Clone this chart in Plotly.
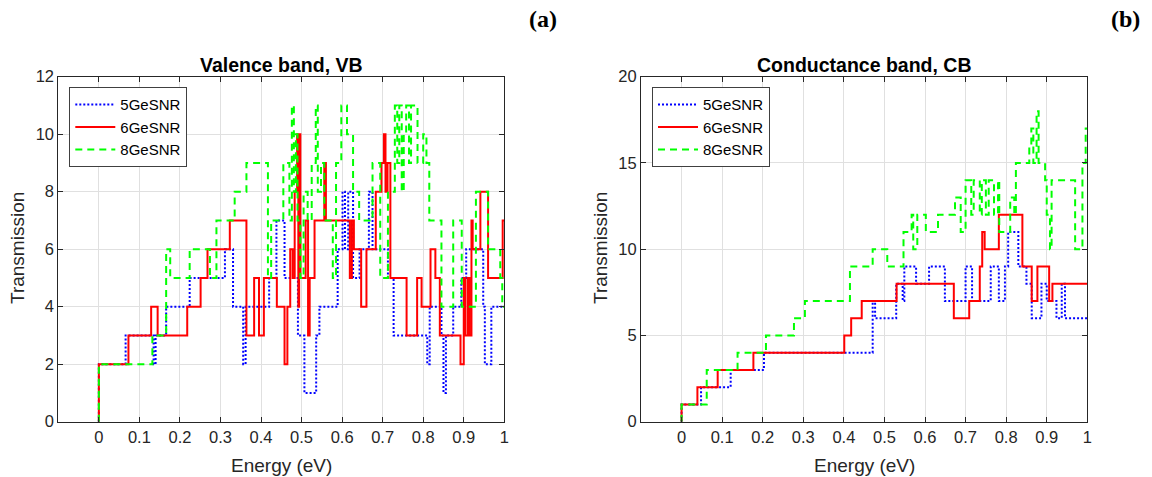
import plotly.graph_objects as go

# ---------------- data ----------------
# Valence band (a)
vb_energy_5 = [0, 0, 0.066, 0.135, 0.14, 0.166, 0.224, 0.311, 0.331, 0.356, 0.362, 0.42, 0.438, 0.458, 0.491,
               0.507, 0.536, 0.544, 0.589, 0.601, 0.607, 0.615, 0.627, 0.643, 0.666, 0.675, 0.713, 0.727,
               0.81, 0.816, 0.845, 0.85, 0.856, 0.874, 0.894, 0.906, 0.948, 0.952, 0.968, 1.0]
vb_trans_5 = [0, 2, 3, 2, 3, 4, 5, 6, 4, 2, 4, 5, 7, 5, 3,
              1, 3, 4, 6, 8, 6, 8, 5, 6, 8, 6, 5, 3,
              2, 4, 3, 1, 3, 4, 5, 6, 4, 2, 4, 4]

vb_energy_6 = [0, 0, 0.073, 0.129, 0.145, 0.218, 0.251, 0.268, 0.323, 0.364, 0.383, 0.395, 0.407, 0.439,
               0.458, 0.465, 0.472, 0.478, 0.483, 0.489, 0.492, 0.494, 0.497, 0.51, 0.516, 0.52, 0.532,
               0.556, 0.56, 0.619, 0.624, 0.629, 0.647, 0.66, 0.683, 0.697, 0.703, 0.707, 0.712, 0.719,
               0.759, 0.785, 0.796, 0.818, 0.83, 0.841, 0.892, 0.9, 0.904, 0.91, 0.914, 0.919, 0.922,
               0.941, 0.96, 0.996, 1.0]
vb_trans_6 = [0, 2, 3, 4, 3, 4, 5, 6, 7, 3, 5, 3, 5, 4,
              2, 4, 6, 5, 8, 10, 4, 10, 5, 7, 3, 5, 7,
              9, 7, 5, 7, 6, 4, 6, 8, 9, 10, 8, 9, 5,
              3, 5, 4, 6, 5, 3, 2, 5, 3, 5, 3, 7, 6,
              8, 5, 7, 7]

vb_energy_8 = [0, 0, 0.132, 0.166, 0.176, 0.224, 0.274, 0.29, 0.335, 0.364, 0.417, 0.425, 0.455, 0.47,
               0.476, 0.481, 0.486, 0.49, 0.497, 0.505, 0.515, 0.525, 0.535, 0.54, 0.548, 0.556, 0.577,
               0.585, 0.598, 0.612, 0.627, 0.642, 0.675, 0.694, 0.713, 0.73, 0.736, 0.741, 0.747, 0.752,
               0.758, 0.765, 0.77, 0.786, 0.8, 0.808, 0.815, 0.845, 0.874, 0.895, 0.93, 0.96, 0.99,
               0.995, 1.0]
vb_trans_8 = [0, 2, 3, 6, 5, 6, 5, 7, 8, 9, 5, 7, 9, 7,
              11, 8, 10, 7, 5, 8, 7, 9, 11, 8, 9, 7, 5,
              9, 11, 10, 8, 7, 9, 5, 8, 11, 9, 11, 8, 10,
              11, 9, 11, 9, 10, 9, 7, 4, 7, 4, 8, 6, 5,
              4, 4]

# Conductance band (b)
cb_energy_5 = [0, 0, 0.048, 0.121, 0.203, 0.471, 0.477, 0.529, 0.545, 0.549, 0.578, 0.61, 0.649, 0.7,
               0.716, 0.762, 0.782, 0.797, 0.805, 0.83, 0.85, 0.863, 0.887, 0.9, 0.924, 0.937, 0.945, 1.0]
cb_trans_5 = [0, 1, 2, 3, 4, 7, 6, 8, 7, 9, 8, 9, 7, 9,
              7, 9, 7, 9, 11, 9, 8, 6, 8, 7, 6, 8, 6, 6]

cb_energy_6 = [0, 0, 0.039, 0.089, 0.177, 0.401, 0.418, 0.444, 0.53, 0.671, 0.709, 0.735, 0.741, 0.747,
               0.782, 0.84, 0.863, 0.877, 0.906, 0.914, 1.0]
cb_trans_6 = [0, 1, 2, 3, 4, 5, 6, 7, 8, 6, 7, 9, 11, 10,
              12, 9, 7, 9, 7, 8, 8]

cb_energy_8 = [0, 0, 0.062, 0.138, 0.208, 0.277, 0.304, 0.415, 0.471, 0.507, 0.547, 0.567, 0.571, 0.581,
               0.602, 0.632, 0.674, 0.688, 0.7, 0.714, 0.72, 0.735, 0.74, 0.75, 0.757, 0.77, 0.78, 0.783,
               0.81, 0.82, 0.824, 0.857, 0.862, 0.867, 0.875, 0.88, 0.896, 0.9, 0.908, 0.912, 0.97,
               0.988, 0.996, 1.0]
cb_trans_8 = [0, 1, 3, 4, 5, 6, 7, 9, 10, 9, 11, 12, 10, 12,
              11, 12, 13, 11, 14, 12, 14, 12, 14, 12, 14, 12, 14, 11,
              13, 12, 15, 16, 17, 15, 18, 15, 14, 12, 10, 14, 10,
              15, 17, 17]

series_names = ["5GeSNR", "6GeSNR", "8GeSNR"]
x_tick_vals = [0, 0.1, 0.2, 0.3, 0.4, 0.5, 0.6, 0.7, 0.8, 0.9, 1.0]
x_tick_text = ["0", "0.1", "0.2", "0.3", "0.4", "0.5", "0.6", "0.7", "0.8", "0.9", "1"]
vb_y_ticks = [0, 2, 4, 6, 8, 10, 12]
cb_y_ticks = [0, 5, 10, 15, 20]

# ---------------- styling ----------------
W, H = 1152, 477
FONT = "Liberation Sans, Arial, sans-serif"
SERIF = "Liberation Serif, Times New Roman, serif"
INK = "#262626"
GRID = "#e0e0e0"
colors = ["#0000ff", "#ff0000", "#00ff00"]
dashes = ["2px,2px", "solid", "7px,5px"]

fig = go.Figure()

panels = [
    ("x", "y", "legend", [(vb_energy_5, vb_trans_5), (vb_energy_6, vb_trans_6), (vb_energy_8, vb_trans_8)]),
    ("x2", "y2", "legend2", [(cb_energy_5, cb_trans_5), (cb_energy_6, cb_trans_6), (cb_energy_8, cb_trans_8)]),
]
for xa, ya, lg, data in panels:
    for (e, t), name, c, d in zip(data, series_names, colors, dashes):
        fig.add_trace(go.Scatter(
            x=e, y=t, mode="lines", name=name, xaxis=xa, yaxis=ya, legend=lg,
            line=dict(color=c, width=2, dash=d, shape="hv"),
        ))

def px_x(p):
    return p / W

def px_y(p):
    return (H - p) / H

common_axis = dict(
    showline=True, linecolor=INK, linewidth=1, mirror="ticks",
    ticks="inside", ticklen=5, tickcolor=INK, tickwidth=1,
    showgrid=True, gridcolor=GRID, gridwidth=1, zeroline=False,
    tickfont=dict(family=FONT, size=16.5, color=INK), automargin=False,
)

ydom = [px_y(421.7), px_y(76.7)]
legend_style = dict(xanchor="left", yanchor="top",
                    bgcolor="white", bordercolor="#404040", borderwidth=1,
                    font=dict(family=FONT, size=15, color="#000000"),
                    tracegroupgap=0, itemwidth=40)
fig.update_layout(
    width=W, height=H,
    margin=dict(l=0, r=0, t=0, b=0),
    paper_bgcolor="white", plot_bgcolor="white",
    xaxis=dict(domain=[px_x(58.3), px_x(504.3)], range=[-0.1, 1], anchor="y",
               tickvals=x_tick_vals, ticktext=x_tick_text, **common_axis),
    yaxis=dict(domain=ydom, range=[0, 12], anchor="x", tickvals=vb_y_ticks, **common_axis),
    xaxis2=dict(domain=[px_x(641), px_x(1087.3)], range=[-0.1, 1], anchor="y2",
                tickvals=x_tick_vals, ticktext=x_tick_text, **common_axis),
    yaxis2=dict(domain=ydom, range=[0, 20], anchor="x2", tickvals=cb_y_ticks, **common_axis),
    legend=dict(x=px_x(69.3), y=px_y(87.3), **legend_style),
    legend2=dict(x=px_x(652), y=px_y(87.3), **legend_style),
)

annotations = [
    dict(text="<b>Valence band, VB</b>", x=px_x(281.3), y=px_y(65), font=dict(family=FONT, size=19.5, color="#000000")),
    dict(text="<b>Conductance band, CB</b>", x=px_x(864), y=px_y(65), font=dict(family=FONT, size=19.5, color="#000000")),
    dict(text="Energy (eV)", x=px_x(281.3), y=px_y(465), font=dict(family=FONT, size=19, color=INK)),
    dict(text="Energy (eV)", x=px_x(864), y=px_y(465), font=dict(family=FONT, size=19, color=INK)),
    dict(text="Transmission", x=px_x(18), y=px_y(248), textangle=-90, font=dict(family=FONT, size=19, color=INK)),
    dict(text="Transmission", x=px_x(601), y=px_y(248), textangle=-90, font=dict(family=FONT, size=19, color=INK)),
    dict(text="<b>(a)</b>", x=px_x(543), y=px_y(19), font=dict(family=SERIF, size=24, color="#000000")),
    dict(text="<b>(b)</b>", x=px_x(1125), y=px_y(19), font=dict(family=SERIF, size=24, color="#000000")),
]
for a in annotations:
    a.update(xref="paper", yref="paper", showarrow=False, xanchor="center", yanchor="middle")
fig.update_layout(annotations=annotations)

fig.write_html("out.html", config={"displayModeBar": False},
               post_script="document.body.style.margin='0';document.body.style.padding='0';")
